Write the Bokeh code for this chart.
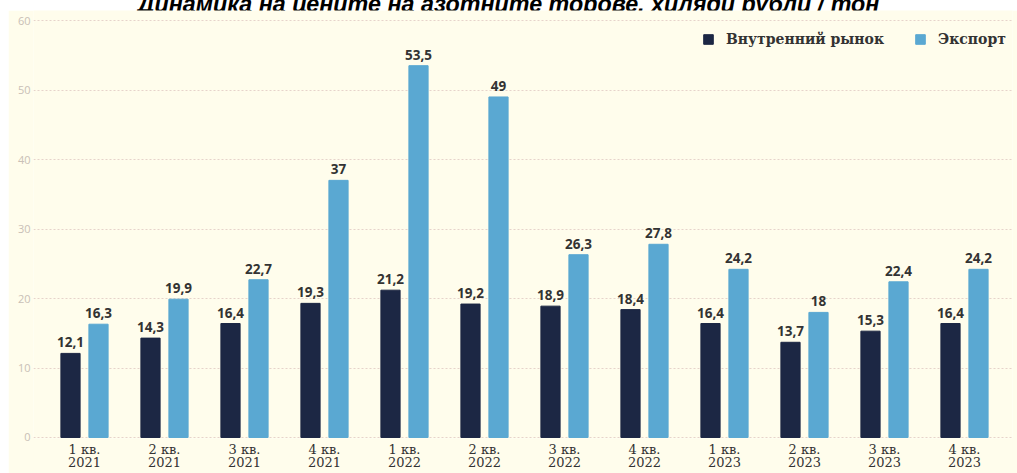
import numpy as np
from bokeh.plotting import figure
from bokeh.models import (ColumnDataSource, Range1d, FixedTicker, Legend,
                          LegendItem, Div)
from bokeh.layouts import column
from bokeh.transform import dodge
from bokeh.core.properties import value
from bokeh.embed import file_html
from bokeh.resources import INLINE

# ---------------- data ----------------
title_text = "Динамика на цените на азотните торове, хиляди рубли / тон"
quarters = ["1 кв.", "2 кв.", "3 кв.", "4 кв.",
            "1 кв.", "2 кв.", "3 кв.", "4 кв.",
            "1 кв.", "2 кв.", "3 кв.", "4 кв."]
years = ["2021", "2021", "2021", "2021",
         "2022", "2022", "2022", "2022",
         "2023", "2023", "2023", "2023"]
domestic = [12.1, 14.3, 16.4, 19.3, 21.2, 19.2, 18.9, 18.4, 16.4, 13.7, 15.3, 16.4]
export = [16.3, 19.9, 22.7, 37, 53.5, 49, 26.3, 27.8, 24.2, 18, 22.4, 24.2]
series_names = ["Внутренний рынок", "Экспорт"]
y_ticks = [0, 10, 20, 30, 40, 50, 60]

# ---------------- styles ----------------
CREAM = "#fffdec"
DARK = "#1c2744"
BLUE = "#5aa8d2"
LABEL = "#333333"


def fmt(v):
    return f"{v:g}".replace(".", ",")


x = list(range(len(quarters)))
tick_labels = {i: f"{q}\n{y}" for i, (q, y) in enumerate(zip(quarters, years))}

src = ColumnDataSource(dict(
    x=x, dom=domestic, exp=export,
    dom_lbl=[fmt(v) for v in domestic],
    exp_lbl=[fmt(v) for v in export],
))

p = figure(width=1009, height=463,
           x_range=Range1d(-0.6375, 11.6), y_range=Range1d(-0.144, 61.44),
           output_backend="svg", toolbar_location=None,
           min_border_left=25, min_border_right=5,
           min_border_top=0, min_border_bottom=35,
           margin=(0, 0, 0, 8))
p.background_fill_color = CREAM
p.border_fill_color = CREAM
p.outline_line_color = None

off = 0.175
w = 0.24
r1 = p.vbar(x=dodge("x", -off, range=p.x_range), top="dom", width=w,
            source=src, fill_color=DARK, line_color=DARK)
r2 = p.vbar(x=dodge("x", off, range=p.x_range), top="exp", width=w,
            source=src, fill_color=BLUE, line_color=BLUE)

for col, lbl, o in (("dom", "dom_lbl", -off), ("exp", "exp_lbl", off)):
    p.text(x=dodge("x", o, range=p.x_range), y=col, text=lbl, source=src,
           text_align="center", text_baseline="alphabetic", y_offset=-11,
           text_font=value("Open Sans"), text_font_style="bold",
           text_font_size="13.5px", text_color=LABEL)

# axes
xa = p.xaxis[0]
xa.ticker = FixedTicker(ticks=x)
xa.major_label_overrides = tick_labels
xa.axis_line_color = None
xa.major_tick_line_color = None
xa.minor_tick_line_color = None
xa.major_tick_out = 0
xa.major_tick_in = 0
xa.major_label_standoff = 3
xa.major_label_text_font = "DejaVu Serif"
xa.major_label_text_font_size = "13px"
xa.major_label_text_color = LABEL
xa.major_label_text_line_height = 0.93

ya = p.yaxis[0]
ya.ticker = FixedTicker(ticks=y_ticks)
ya.axis_line_color = None
ya.major_tick_line_color = None
ya.minor_tick_line_color = None
ya.major_tick_out = 0
ya.major_tick_in = 0
ya.major_label_standoff = 3
ya.major_label_text_font = "Open Sans"
ya.major_label_text_font_size = "11px"
ya.major_label_text_color = "#c9c0b6"

p.xgrid.grid_line_color = None
p.ygrid.ticker = FixedTicker(ticks=y_ticks)
p.ygrid.grid_line_color = "#e6d3cb"
p.ygrid.grid_line_dash = "2 2"
p.ygrid.grid_line_width = 1

legend = Legend(items=[LegendItem(label=series_names[0], renderers=[r1]),
                       LegendItem(label=series_names[1], renderers=[r2])],
                orientation="horizontal", location=(669, 391),
                background_fill_alpha=0, border_line_color=None,
                glyph_width=12, glyph_height=12, label_standoff=12,
                spacing=30, padding=0, margin=0,
                label_text_font="DejaVu Serif", label_text_font_style="bold",
                label_text_font_size="14px", label_text_color=LABEL)
p.add_layout(legend)

title_div = Div(
    text=('<div style="margin-top:-14px;padding-left:6px;line-height:1;'
          'font-family:\'Liberation Sans\';font-weight:bold;font-style:italic;'
          'font-size:23.3px;text-align:center;white-space:nowrap;color:#000;'
          'width:1011px">' + title_text + '</div>'),
    width=1017, height=10, margin=(0, 0, 0, 0),
    styles={"overflow": "visible"})

layout = column(title_div, p, spacing=0)

open("out.html", "w").write(file_html(layout, INLINE))
